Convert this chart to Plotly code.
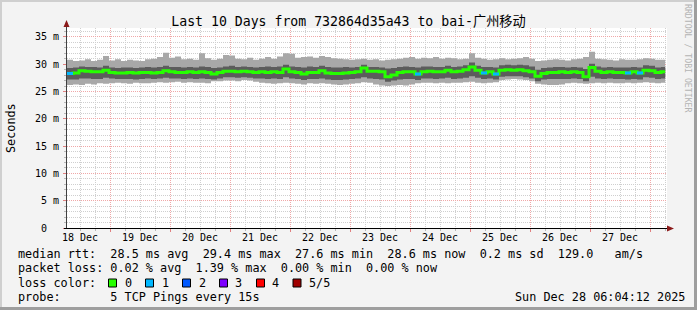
import plotly.graph_objects as go
import pandas as pd

# ---------------- data ----------------
START = "2025-12-18 06:48:00"
AXIS_END = "2025-12-28 06:48:00"
DATA_END = "2025-12-28 06:04:12"
BIN = "144min"

median_ms = [
    28.3, 28.4, 28.8, 28.7, 28.6, 28.6, 28.9, 28.5, 28.4, 28.4,
    28.5, 28.4, 28.5, 28.5, 28.4, 28.5, 28.8, 28.6, 28.5, 28.5,
    28.6, 28.5, 28.6, 28.5, 28.2, 28.5, 28.7, 28.7, 28.6, 28.7,
    28.6, 28.5, 28.6, 28.5, 28.6, 28.5, 29.1, 28.6, 28.5, 28.2,
    28.5, 28.5, 28.8, 28.4, 28.3, 28.3, 28.4, 28.5, 28.6, 29.3,
    28.7, 28.7, 28.6, 27.7, 28.0, 28.5, 28.6, 28.6, 28.2, 28.6,
    28.7, 28.6, 28.6, 28.9, 28.6, 28.7, 29.0, 29.5, 28.9, 28.4,
    28.6, 28.2, 28.9, 29.0, 28.9, 29.0, 28.8, 28.6, 27.8, 28.3,
    28.5, 28.5, 28.6, 28.5, 28.6, 28.5, 27.7, 29.4, 28.7, 28.5,
    28.6, 28.5, 28.5, 28.4, 28.6, 28.4, 28.9, 28.8, 28.5, 28.6,
]
max_ms = [
    30.8, 30.6, 30.7, 30.9, 30.6, 30.8, 31.5, 30.7, 30.9, 30.6,
    30.8, 30.7, 30.6, 30.9, 31.0, 31.3, 32.1, 31.2, 31.4, 30.9,
    31.0, 30.8, 32.0, 31.1, 30.8, 31.0, 31.7, 31.6, 31.0, 30.9,
    31.2, 30.8, 31.0, 31.3, 31.0, 31.4, 32.0, 31.9, 31.2, 31.3,
    31.4, 31.2, 31.5, 31.3, 31.1, 31.0, 30.9, 30.8, 30.9, 31.0,
    30.8, 30.9, 30.7, 30.8, 30.9, 31.0, 31.2, 31.3, 31.0, 31.2,
    31.1, 31.3, 31.0, 31.2, 31.1, 30.9, 31.0, 32.0, 31.2, 31.0,
    30.8, 30.9, 31.1, 30.9, 31.0, 31.1, 31.3, 31.0, 30.6, 30.7,
    30.8, 30.9, 30.8, 30.7, 30.9, 31.0, 31.3, 32.3, 31.0, 30.9,
    30.8, 30.7, 30.9, 30.8, 30.8, 30.9, 31.1, 31.0, 30.8, 30.8,
]
min_ms = [
    26.2, 26.3, 26.2, 26.4, 26.3, 26.5, 26.4, 26.5, 26.6, 26.5,
    26.4, 26.6, 26.5, 26.5, 26.6, 26.7, 26.6, 26.7, 26.8, 26.6,
    26.7, 26.6, 26.6, 26.5, 26.9, 26.9, 27.0, 27.0, 26.9, 27.1,
    27.0, 26.8, 26.6, 26.5, 26.4, 26.5, 26.6, 26.5, 26.4, 26.3,
    26.5, 26.4, 26.5, 26.4, 26.3, 26.2, 26.3, 26.4, 26.5, 26.7,
    26.6, 26.3, 26.1, 26.0, 26.1, 26.2, 26.1, 26.3, 26.5, 26.6,
    26.6, 26.5, 26.6, 26.5, 26.6, 26.6, 26.7, 26.8, 26.6, 26.5,
    26.6, 26.7, 27.1, 27.2, 27.3, 27.2, 27.1, 26.9, 26.4, 26.3,
    26.2, 26.2, 26.3, 26.5, 26.6, 26.5, 26.4, 26.5, 26.6, 26.5,
    26.6, 26.5, 26.5, 26.6, 26.5, 26.6, 26.7, 26.6, 26.5, 26.6,
]
upper_ms = [
    29.3, 29.4, 29.6, 29.5, 29.5, 29.4, 29.7, 29.4, 29.3, 29.4,
    29.4, 29.3, 29.4, 29.5, 29.4, 29.5, 29.7, 29.5, 29.5, 29.4,
    29.5, 29.4, 29.6, 29.5, 29.3, 29.4, 29.6, 29.7, 29.5, 29.6,
    29.5, 29.4, 29.5, 29.6, 29.5, 29.6, 29.9, 29.6, 29.5, 29.4,
    29.6, 29.5, 29.7, 29.5, 29.4, 29.4, 29.5, 29.4, 29.5, 29.9,
    29.5, 29.5, 29.4, 29.2, 29.3, 29.5, 29.6, 29.5, 29.4, 29.6,
    29.6, 29.5, 29.5, 29.7, 29.5, 29.6, 29.8, 30.3, 29.7, 29.5,
    29.5, 29.4, 29.8, 29.9, 29.8, 29.9, 29.8, 29.6, 29.0, 29.3,
    29.4, 29.5, 29.5, 29.4, 29.5, 29.4, 29.1, 30.1, 29.6, 29.4,
    29.5, 29.4, 29.4, 29.4, 29.5, 29.4, 29.8, 29.7, 29.4, 29.5,
]
lower_ms = [
    27.2, 27.2, 27.4, 27.4, 27.3, 27.3, 27.5, 27.4, 27.3, 27.3,
    27.3, 27.2, 27.3, 27.4, 27.3, 27.4, 27.5, 27.4, 27.4, 27.3,
    27.4, 27.3, 27.4, 27.3, 27.2, 27.4, 27.6, 27.6, 27.5, 27.6,
    27.5, 27.4, 27.4, 27.3, 27.4, 27.3, 27.6, 27.4, 27.3, 27.1,
    27.3, 27.3, 27.4, 27.2, 27.1, 27.1, 27.2, 27.3, 27.4, 27.6,
    27.4, 27.3, 27.2, 26.8, 27.0, 27.2, 27.3, 27.3, 27.1, 27.4,
    27.4, 27.3, 27.4, 27.5, 27.3, 27.4, 27.5, 27.8, 27.5, 27.3,
    27.4, 27.2, 27.7, 27.8, 27.8, 27.8, 27.6, 27.4, 26.9, 27.2,
    27.3, 27.3, 27.3, 27.3, 27.4, 27.3, 26.9, 27.7, 27.4, 27.3,
    27.4, 27.3, 27.3, 27.2, 27.3, 27.2, 27.6, 27.5, 27.3, 27.4,
]
loss_count = [0] * 100
for _i in (0, 58, 69, 71, 93, 95):
    loss_count[_i] = 1

day_labels = ["18 Dec", "19 Dec", "20 Dec", "21 Dec", "22 Dec",
              "23 Dec", "24 Dec", "25 Dec", "26 Dec", "27 Dec"]
day_label_times = ["2025-12-%02d 12:00" % d for d in range(18, 28)]
midnights = ["2025-12-%02d 00:00" % d for d in range(19, 29)]
ytick_vals = [0, 5, 10, 15, 20, 25, 30, 35]
ytick_text = ["0\u00a0\u00a0", "5 m", "10 m", "15 m", "20 m", "25 m", "30 m", "35 m"]

loss_colors = ["#26ff00", "#00b8ff", "#0059ff", "#7e00ff", "#ff0000", "#a00000"]
loss_names = ["0", "1", "2", "3", "4", "5/5"]

legend_lines = [
    "median rtt:  28.5 ms avg  29.4 ms max  27.6 ms min  28.6 ms now  0.2 ms sd  129.0   am/s",
    "packet loss: 0.02 % avg  1.39 % max  0.00 % min  0.00 % now",
    "loss color:",
    "probe:       5 TCP Pings every 15s",
]
stamp = "Sun Dec 28 06:04:12 2025"
title = "Last 10 Days from 732864d35a43 to bai-广州移动"

# ---------------- layout geometry ----------------
W, H = 697, 310
PL, PR, PT, PB = 67, 667, 28, 228
MONO = "DejaVu Sans Mono, Noto Sans CJK SC, monospace"


def px(x):
    return (x - PL) / (PR - PL)


def py(y):
    return (PB - y) / (PB - PT)


def nb(s):
    return s.replace(" ", "\u00a0")


starts = list(pd.date_range(START, periods=len(median_ms), freq=BIN))
xs = starts + [pd.Timestamp(DATA_END)]


def step(vals):
    return list(vals) + [vals[-1]]


fig = go.Figure()
common = dict(mode="lines", line_shape="hv", hoverinfo="skip", showlegend=False)
fig.add_trace(go.Scatter(x=xs, y=step(min_ms), line=dict(width=0, color="#a8a8a8"), **common))
fig.add_trace(go.Scatter(x=xs, y=step(max_ms), line=dict(width=0, color="#a8a8a8"),
                         fill="tonexty", fillcolor="#a8a8a8", **common))
fig.add_trace(go.Scatter(x=xs, y=step(lower_ms), line=dict(width=0, color="#5c5c5c"), **common))
fig.add_trace(go.Scatter(x=xs, y=step(upper_ms), line=dict(width=0, color="#5c5c5c"),
                         fill="tonexty", fillcolor="#5c5c5c", **common))
fig.add_trace(go.Scatter(x=xs, y=step(median_ms), line=dict(width=3, color=loss_colors[0]), **common))

# loss-coloured median segments
for lvl in range(1, len(loss_colors)):
    sx, sy = [], []
    for i, lc in enumerate(loss_count):
        if lc == lvl:
            sx += [xs[i], xs[i + 1], None]
            sy += [median_ms[i], median_ms[i], None]
    if sx:
        fig.add_trace(go.Scatter(x=sx, y=sy, mode="lines", line=dict(width=3, color=loss_colors[lvl]),
                                 hoverinfo="skip", showlegend=False))

# dummy trace to carry the label axis
fig.add_trace(go.Scatter(x=xs, y=step(median_ms), xaxis="x2", mode="lines",
                         line=dict(width=0), opacity=0, hoverinfo="skip", showlegend=False))

GRID_MAJ = "#f0a8a8"
GRID_MIN = "#cfcfcf"
DOT = "1px,1px"

fig.update_layout(
    width=W, height=H, autosize=False,
    margin=dict(l=PL, r=W - PR, t=PT, b=H - PB, pad=0),
    paper_bgcolor="#f3f3f3", plot_bgcolor="#ffffff",
    font=dict(family=MONO, color="#000000", size=10),
    title=dict(text=title, x=0.5, xref="container", xanchor="center",
               y=1 - 21 / H, yanchor="middle", font=dict(family=MONO, size=13.2, color="#000000")),
    xaxis=dict(
        type="date", range=[START, AXIS_END],
        tickmode="array", tickvals=midnights, showticklabels=False,
        ticks="outside", ticklen=3, tickcolor="#e08080", tickwidth=1,
        showgrid=True, gridcolor=GRID_MAJ, griddash=DOT, gridwidth=1,
        minor=dict(tick0="2025-12-19", dtick=6 * 3600 * 1000, showgrid=True,
                   gridcolor=GRID_MIN, griddash=DOT, gridwidth=1,
                   ticks="outside", ticklen=2, tickcolor="#b8b8b8"),
        showline=False, zeroline=False, fixedrange=True,
    ),
    xaxis2=dict(
        type="date", range=[START, AXIS_END], overlaying="x", anchor="y", side="bottom",
        tickmode="array", tickvals=day_label_times, ticktext=day_labels,
        ticks="", showgrid=False, showline=False, zeroline=False,
        tickfont=dict(family=MONO, size=10, color="#000000"), ticklabelstandoff=2,
    ),
    yaxis=dict(
        range=[0, (PB - PT) / 5.46], tickmode="array", tickvals=ytick_vals, ticktext=ytick_text,
        ticks="outside", ticklen=3, tickcolor="#e08080",
        showgrid=True, gridcolor=GRID_MAJ, griddash=DOT, gridwidth=1,
        minor=dict(dtick=1, showgrid=True, gridcolor=GRID_MIN, griddash=DOT, gridwidth=1,
                   ticks="outside", ticklen=2, tickcolor="#b8b8b8"),
        tickfont=dict(family=MONO, size=10, color="#000000"), ticklabelstandoff=2,
        showline=False, zeroline=False, fixedrange=True,
    ),
)

shapes = []
# frame shading
shapes.append(dict(type="line", xref="paper", yref="paper", x0=px(0), x1=px(W), y0=py(1), y1=py(1),
                   line=dict(color="#cfcfcf", width=2)))
shapes.append(dict(type="line", xref="paper", yref="paper", x0=px(1), x1=px(1), y0=py(0), y1=py(H),
                   line=dict(color="#cfcfcf", width=2)))
shapes.append(dict(type="line", xref="paper", yref="paper", x0=px(0), x1=px(W), y0=py(H - 1.5), y1=py(H - 1.5),
                   line=dict(color="#9e9e9e", width=3)))
shapes.append(dict(type="line", xref="paper", yref="paper", x0=px(W - 1.5), x1=px(W - 1.5), y0=py(0), y1=py(H),
                   line=dict(color="#9e9e9e", width=3)))
# axes with arrows
shapes.append(dict(type="line", xref="paper", yref="paper", x0=px(PL - 0.5), x1=px(PL - 0.5),
                   y0=py(PB), y1=py(24), line=dict(color="#404040", width=1), layer="above"))
shapes.append(dict(type="line", xref="paper", yref="paper", x0=px(PL - 3), x1=px(669),
                   y0=py(PB + 0.5), y1=py(PB + 0.5), line=dict(color="#000000", width=1), layer="above"))
shapes.append(dict(type="path", xref="paper", yref="paper",
                   path="M %f,%f L %f,%f L %f,%f Z" % (px(PL - 3.5), py(27), px(PL + 2.5), py(27), px(PL - 0.5), py(20)),
                   fillcolor="#8b1a1a", line=dict(width=0), layer="above"))
shapes.append(dict(type="path", xref="paper", yref="paper",
                   path="M %f,%f L %f,%f L %f,%f Z" % (px(667), py(PB - 2.5), px(667), py(PB + 3.5), px(674), py(PB + 0.5)),
                   fillcolor="#8b1a1a", line=dict(width=0), layer="above"))

# loss colour boxes
box_x = [108.5, 145.5, 182.5, 219.5, 256.5, 293.0]
lab_x = [123, 160, 197, 233, 270, 307]
for bx, col in zip(box_x, loss_colors):
    shapes.append(dict(type="rect", xref="paper", yref="paper", x0=px(bx), x1=px(bx + 8),
                       y0=py(287), y1=py(279), fillcolor=col, line=dict(color="#000000", width=1)))
fig.update_layout(shapes=shapes)

ann = []
line_y = [254, 268, 282.5, 296.5]
for t, yy in zip(legend_lines, line_y):
    ann.append(dict(text=nb(t), xref="paper", yref="paper", x=px(16), y=py(yy), xanchor="left",
                    yanchor="middle", showarrow=False, font=dict(family=MONO, size=11.8, color="#000000")))
for lx, name in zip(lab_x, loss_names):
    ann.append(dict(text=name, xref="paper", yref="paper", x=px(lx), y=py(282.5), xanchor="left",
                    yanchor="middle", showarrow=False, font=dict(family=MONO, size=11.8, color="#000000")))
ann.append(dict(text=nb(stamp), xref="paper", yref="paper", x=px(513), y=py(296.5), xanchor="left",
                yanchor="middle", showarrow=False, font=dict(family=MONO, size=11.8, color="#000000")))
ann.append(dict(text="Seconds", xref="paper", yref="paper", x=px(11), y=py(128), xanchor="center",
                yanchor="middle", textangle=-90, showarrow=False,
                font=dict(family=MONO, size=11.8, color="#000000")))
ann.append(dict(text=nb("RRDTOOL / TOBI OETIKER"), xref="paper", yref="paper", x=px(688), y=py(58),
                xanchor="center", yanchor="middle", textangle=90, showarrow=False,
                font=dict(family=MONO, size=8.2, color="#b4b4b4")))
fig.update_layout(annotations=ann)

fig.write_html("out.html", config=dict(displayModeBar=False))
